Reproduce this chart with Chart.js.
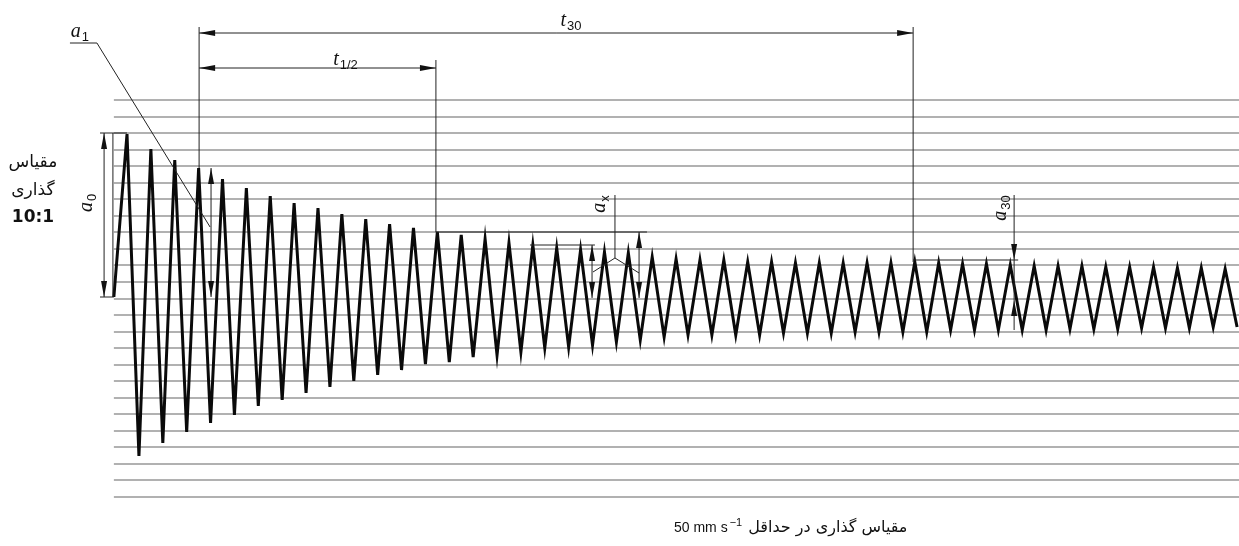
<!DOCTYPE html>
<html>
<head>
<meta charset="utf-8">
<script src="https://cdn.jsdelivr.net/npm/chart.js@4/dist/chart.umd.min.js"></script>
<style>
html, body { margin: 0; padding: 0; background: #fff; }
#wrap { position: relative; width: 1239px; height: 546px; }
</style>
</head>
<body>
<div id="wrap"><canvas id="decay"></canvas></div>
<script>
// x = cycle number (peak n at x = n), y = trace amplitude (chart units)
const peakAmps = [16.3, 14.8, 13.7, 12.9, 11.8, 10.9, 10.1, 9.4, 8.9, 8.3,
    7.8, 7.3, 6.9, 6.5, 6.2, 5.8, 5.4, 5.2, 4.9, 4.7,
    4.5, 4.4, 4.0, 3.8, 3.7, 3.7, 3.5, 3.5, 3.4, 3.4,
    3.4, 3.4, 3.4, 3.5, 3.4, 3.3, 3.3, 3.2, 3.1, 3.1,
    3.1, 3.0, 3.0, 3.0, 2.9, 2.9, 2.8]
const troughAmps = [-15.9, -14.6, -13.5, -12.6, -11.8, -10.9, -10.3, -9.6, -9.0, -8.4,
    -7.8, -7.3, -6.7, -6.5, -6.0, -5.8, -5.5, -5.1, -5.0, -4.8,
    -4.5, -4.3, -4.0, -3.8, -3.8, -3.8, -3.8, -3.6, -3.6, -3.6,
    -3.5, -3.5, -3.5, -3.5, -3.3, -3.3, -3.3, -3.3, -3.3, -3.2,
    -3.2, -3.2, -3.1, -3.1, -3.1, -3.0]
const traceStart = {x: -0.55, y: 0.0}
const traceEnd = {x: 46.5, y: -3.0}

// ruled lines of the recording paper
const paperLines = [19.7, 18.0, 16.4, 14.7, 13.1, 11.4, 9.8, 8.1, 6.5, 4.8,
    3.2, 1.5, -0.2, -1.8, -3.5, -5.1, -6.8, -8.4, -10.1, -11.7,
    -13.4, -15.0, -16.7, -18.3, -20.0]
const paperFrom = -0.55
const paperTo = 46.6

const xRange = [-5.32, 46.58]
const yRange = [-24.9, 29.7]

// thin construction lines [x1, y1, x2, y2]
const guideLines = [
    [3.02, 27.0, 3.02, 12.9],
    [12.94, 23.7, 12.94, 6.5],
    [32.93, 27.0, 32.93, 3.5],
    [-1.13, 16.4, 0.0, 16.4],
    [-1.13, 0.0, -0.55, 0.0],
    [-0.59, 16.4, -0.59, 0.0],
    [12.94, 6.5, 21.78, 6.5],
    [16.88, 5.2, 19.6, 5.2],
    [32.93, 3.7, 37.33, 3.7],
    [20.44, 10.2, 20.44, 3.9],
    [20.44, 3.9, 19.52, 2.5],
    [20.44, 3.9, 21.45, 2.4],
    [37.16, 10.2, 37.16, -3.3],
    [-2.39, 25.4, -1.26, 25.4],
    [-1.26, 25.4, 3.48, 7.0]
]
// dimension lines with arrowheads at both ends
const dimArrows = [
    [3.02, 26.4, 32.93, 26.4],
    [3.02, 22.9, 12.94, 22.9],
    [-0.96, 16.4, -0.96, 0.0],
    [3.52, 12.9, 3.52, 0.0],
    [19.48, 5.2, 19.48, -0.1],
    [21.45, 6.5, 21.45, -0.1]
]
// single arrowheads [baseX, baseY, tipX, tipY]
const singleArrows = [
    [37.16, 5.4, 37.16, 3.7],
    [37.16, -2.0, 37.16, -0.3]
]
// symbol labels: letter, subscript, position, rotation
const symbolLabels = [
    {main: 't', sub: '30', x: 18.6, y: 27.6, rot: 0},
    {main: 't', sub: '1/2', x: 9.15, y: 23.7, rot: 0},
    {main: 'a', sub: '1', x: -1.97, y: 26.5, rot: 0},
    {main: 'a', sub: '0', x: -1.68, y: 9.4, rot: -Math.PI / 2},
    {main: 'a', sub: 'x', x: 19.82, y: 9.3, rot: -Math.PI / 2},
    {main: 'a', sub: '30', x: 36.62, y: 8.9, rot: -Math.PI / 2}
]
const scaleNote = [
    {text: 'مقیاس', x: -3.94, y: 13.4},
    {text: 'گذاری', x: -3.94, y: 10.6},
    {text: '10:1', x: -3.94, y: 7.9}
]
const speedNote = {arabic: 'مقیاس گذاری در حداقل', unit: '50 mm s', sup: '−1', x: 27.8, y: -23.0}

const tracePoints = [traceStart]
peakAmps.forEach((a, i) => {
    tracePoints.push({x: i, y: a})
    if (i < troughAmps.length) tracePoints.push({x: i + 0.5, y: troughAmps[i]})
})
tracePoints.push(traceEnd)

const paperPoints = []
paperLines.forEach(v => {
    paperPoints.push({x: paperFrom, y: v}, {x: paperTo, y: v}, {x: paperTo, y: null})
})

const drawHead = (ctx, bx, by, tx, ty) => {
    const ang = Math.atan2(ty - by, tx - bx)
    const len = 16, half = 3
    ctx.beginPath()
    ctx.moveTo(tx, ty)
    ctx.lineTo(tx - len * Math.cos(ang) + half * Math.sin(ang), ty - len * Math.sin(ang) - half * Math.cos(ang))
    ctx.lineTo(tx - len * Math.cos(ang) - half * Math.sin(ang), ty - len * Math.sin(ang) + half * Math.cos(ang))
    ctx.closePath()
    ctx.fill()
}

const sketchPlugin = {
    id: 'sketch',
    afterDatasetsDraw(chart) {
        const {ctx, scales: {x, y}} = chart
        const px = v => x.getPixelForValue(v)
        const py = v => y.getPixelForValue(v)
        ctx.save()
        ctx.strokeStyle = '#222'
        ctx.fillStyle = '#111'
        ctx.lineWidth = 1

        guideLines.forEach(([x1, y1, x2, y2]) => {
            ctx.beginPath()
            ctx.moveTo(px(x1), py(y1))
            ctx.lineTo(px(x2), py(y2))
            ctx.stroke()
        })
        dimArrows.forEach(([x1, y1, x2, y2]) => {
            ctx.beginPath()
            ctx.moveTo(px(x1), py(y1))
            ctx.lineTo(px(x2), py(y2))
            ctx.stroke()
            drawHead(ctx, px(x2), py(y2), px(x1), py(y1))
            drawHead(ctx, px(x1), py(y1), px(x2), py(y2))
        })
        singleArrows.forEach(([bx, by, tx, ty]) => {
            drawHead(ctx, px(bx), py(by), px(tx), py(ty))
        })

        symbolLabels.forEach(l => {
            ctx.save()
            ctx.translate(px(l.x), py(l.y))
            ctx.rotate(l.rot)
            ctx.font = 'italic 20px "Liberation Serif"'
            const mw = ctx.measureText(l.main).width
            ctx.font = '13px "Liberation Sans"'
            const sw = ctx.measureText(l.sub).width
            const start = -(mw + sw + 1) / 2
            ctx.fillStyle = '#111'
            ctx.textBaseline = 'alphabetic'
            ctx.textAlign = 'left'
            ctx.font = 'italic 20px "Liberation Serif"'
            ctx.fillText(l.main, start, 5)
            ctx.font = '13px "Liberation Sans"'
            ctx.fillText(l.sub, start + mw + 1, 9)
            ctx.restore()
        })

        ctx.fillStyle = '#111'
        ctx.textAlign = 'center'
        ctx.textBaseline = 'middle'
        scaleNote.forEach((n, i) => {
            ctx.font = i === 2 ? 'bold 17px "DejaVu Sans"' : '17px "DejaVu Sans"'
            ctx.fillText(n.text, px(n.x), py(n.y))
        })

        ctx.font = '16px "DejaVu Sans"'
        const aw = ctx.measureText(speedNote.arabic).width
        ctx.font = '14px "Liberation Sans"'
        const uw = ctx.measureText(speedNote.unit).width
        ctx.font = '11px "Liberation Sans"'
        const sw = ctx.measureText(speedNote.sup).width
        const total = uw + 2 + sw + 6 + aw
        let cx = px(speedNote.x) - total / 2
        const cy = py(speedNote.y)
        ctx.textAlign = 'left'
        ctx.textBaseline = 'alphabetic'
        ctx.font = '14px "Liberation Sans"'
        ctx.fillText(speedNote.unit, cx, cy + 5)
        cx += uw + 2
        ctx.font = '11px "Liberation Sans"'
        ctx.fillText(speedNote.sup, cx, cy - 1)
        cx += sw + 6
        ctx.font = '16px "DejaVu Sans"'
        ctx.direction = 'rtl'
        ctx.textAlign = 'right'
        ctx.fillText(speedNote.arabic, cx + aw, cy + 5)
        ctx.restore()
    }
}

new Chart(document.getElementById('decay'), {
    type: 'line',
    data: {
        datasets: [{
            data: tracePoints,
            borderColor: '#0a0a0a',
            borderWidth: 3,
            borderJoinStyle: 'miter',
            pointRadius: 0,
            tension: 0,
            order: 0
        }, {
            data: paperPoints,
            borderColor: 'rgba(50,50,50,0.75)',
            borderWidth: 1.2,
            pointRadius: 0,
            spanGaps: false,
            tension: 0,
            order: 1
        }]
    },
    options: {
        responsive: true,
        maintainAspectRatio: false,
        animation: false,
        layout: {padding: 0},
        plugins: {legend: {display: false}, tooltip: {enabled: false}, title: {display: false}},
        scales: {
            x: {type: 'linear', min: xRange[0], max: xRange[1], display: false},
            y: {type: 'linear', min: yRange[0], max: yRange[1], display: false}
        }
    },
    plugins: [sketchPlugin]
})
</script>
</body>
</html>
